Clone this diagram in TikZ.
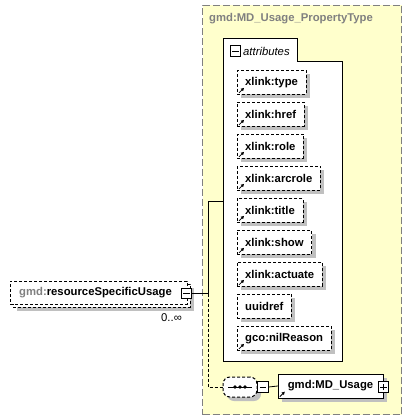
\documentclass[tikz,border=0pt]{standalone}
\usepackage{fontspec}
\setmainfont{Liberation Sans}
\usetikzlibrary{shadows,arrows.meta}
\definecolor{ybg}{HTML}{FFFFCC}
\definecolor{ygrey}{HTML}{808080}
\definecolor{shd}{HTML}{C0C0C0}
\tikzset{
  lbl/.style={font=\fontsize{11.3pt}{13pt}\selectfont\bfseries},
  shadowed/.style={drop shadow={shadow xshift=4pt, shadow yshift=-4pt, fill=shd, opacity=1}},
  dsh/.style={dash pattern=on 3pt off 2pt},
  attrbox/.style={lbl, draw, dsh, fill=white, minimum height=24pt, inner xsep=8pt, inner ysep=0pt, anchor=north west, shadowed},
  expm/.style={draw, fill=white, minimum size=10.5pt, inner sep=0pt, line width=0.9pt,
    path picture={\draw[line width=0.9pt] ([xshift=2pt]path picture bounding box.west) -- ([xshift=-2pt]path picture bounding box.east);}},
  expp/.style={draw, fill=white, minimum size=10.5pt, inner sep=0pt, line width=0.9pt,
    path picture={\draw[line width=0.9pt] ([xshift=2pt]path picture bounding box.west) -- ([xshift=-2pt]path picture bounding box.east);
      \draw[line width=0.9pt] ([yshift=2pt]path picture bounding box.south) -- ([yshift=-2pt]path picture bounding box.north);}},
  refarrow/.style={-{Triangle[length=3pt,width=3.2pt]}, line width=0.8pt},
  seqbox/.style={rectangle, minimum width=34pt, minimum height=20pt, inner sep=0pt, draw, dsh, line width=1pt, fill=white, rounded corners=7pt, shadowed}
}
\begin{document}
\begin{tikzpicture}[x=1pt,y=-1pt]
\useasboundingbox (0,0) rectangle (419,420);
% property type container
\node[draw=ygrey, fill=ybg, dash pattern=on 7pt off 3pt, line width=1pt, minimum width=199pt, minimum height=409pt, anchor=north west, inner sep=0pt] (ptype) at (202,5) {};
\node[lbl, text=ygrey, anchor=west, inner sep=0pt] (title) at (209,19) {gmd:MD\_Usage\_PropertyType};
% attributes group
\draw[fill=white, line width=0.8pt] (223,38) -- (297,38) -- (297,61) -- (342,61) -- (342,361) -- (223,361) -- cycle;
\node[expm] (attrmin) at (235.5,51) {};
\node[font=\fontsize{11.3pt}{13pt}\selectfont\itshape, anchor=west, inner sep=0pt] (attrlbl) at (243,51) {attributes};
\coordinate (attrL) at (223,201);
% attributes
\node[attrbox] (a1) at (237,70) {xlink:type};
\node[attrbox] (a2) at (237,102) {xlink:href};
\node[attrbox] (a3) at (237,134) {xlink:role};
\node[attrbox] (a4) at (237,166) {xlink:arcrole};
\node[attrbox] (a5) at (237,198) {xlink:title};
\node[attrbox] (a6) at (237,230) {xlink:show};
\node[attrbox] (a7) at (237,262) {xlink:actuate};
\node[attrbox] (a8) at (237,294) {uuidref};
\node[attrbox] (a9) at (237,326) {gco:nilReason};
\foreach \n in {a1,a2,a3,a4,a5,a6,a7,a9}
  \draw[refarrow] ([shift={(2pt,1.5pt)}]\n.south west) -- ++(5pt,5pt);
% element
\node[draw, dsh, fill=white, minimum width=177pt, minimum height=23pt, anchor=north west, inner sep=0pt, shadowed] (eback) at (13,284) {};
\node[lbl, draw, dsh, fill=white, text width=159pt, align=left, inner xsep=9pt, inner ysep=0pt, minimum height=23pt, anchor=north west] (elem) at (10,281) {\textcolor{ygrey}{gmd:}resourceSpecificUsage};
\node[expm] (emin) at (186.5,293.5) {};
\node[font=\fontsize{11.3pt}{13pt}\selectfont, inner sep=0pt] (card) at (171.5,318) {0..∞};
% sequence
\node[seqbox] (seq) at (240,387) {};
\draw[line width=0.8pt] ([xshift=-12pt]seq.center) -- ([xshift=12pt]seq.center);
\foreach \d in {-5,0,5} \fill ([xshift=\d pt]seq.center) circle (1.8pt);
\node[expm] (seqmin) at (263,387) {};
% MD_Usage
\node[lbl, draw, fill=white, minimum width=105pt, minimum height=24pt, inner sep=0pt, shadowed] (usage) at (330.5,386) {gmd:MD\_Usage};
\draw[refarrow] ([shift={(2pt,1.5pt)}]usage.south west) -- ++(5pt,5pt);
\node[expp] (uplus) at (383.5,387) {};
% connectors
\coordinate (j) at (208,293.5);
\draw[line width=0.8pt] (emin.east) -- (j) |- (attrL);
\draw[dsh, line width=0.8pt] (j) |- (seq.west);
\draw[line width=0.8pt] (seqmin.east) -- (usage.west);
\end{tikzpicture}
\end{document}
